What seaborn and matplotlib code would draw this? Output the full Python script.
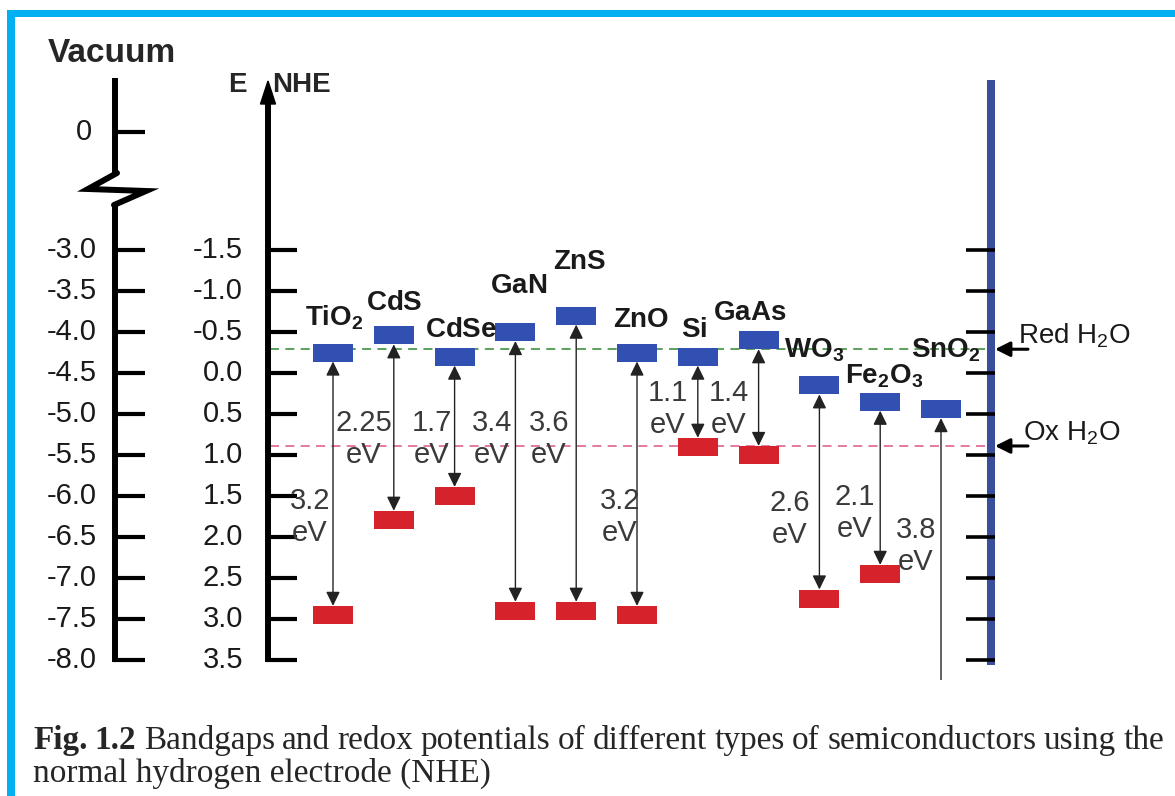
import re
import matplotlib
matplotlib.use("Agg")
import matplotlib.pyplot as plt
import seaborn as sns
import numpy as np
import pandas as pd
from matplotlib.path import Path
from matplotlib.patches import Rectangle

# Band-edge positions on the NHE scale (V) and band gaps (eV)
materials = ["TiO2", "CdS", "CdSe", "GaN", "ZnS", "ZnO", "Si", "GaAs", "WO3", "Fe2O3", "SnO2"]
conduction_band = [-0.25, -0.46, -0.20, -0.50, -0.70, -0.25, -0.20, -0.40, 0.15, 0.35, 0.44]
band_gap = [3.2, 2.25, 1.7, 3.4, 3.6, 3.2, 1.1, 1.4, 2.6, 2.1, 3.8]

# Axis scales: NHE ticks and the vacuum scale offset, E(vac) = -4.5 - E(NHE)
nhe_ticks = [-1.5, -1.0, -0.5, 0.0, 0.5, 1.0, 1.5, 2.0, 2.5, 3.0, 3.5]
vacuum_offset = -4.5
vacuum_top_label = "0"

# Water redox levels as drawn
h2o_reduction = -0.29
h2o_oxidation = 0.89

caption_bold = "Fig. 1.2"
caption_line1 = "Bandgaps and redox potentials of different types of semiconductors using the"
caption_line2 = "normal hydrogen electrode (NHE)"

sns.set_theme(style="white")
plt.rcParams["font.family"] = ["Liberation Sans", "DejaVu Sans"]
plt.rcParams["mathtext.fontset"] = "custom"
plt.rcParams["mathtext.rm"] = "Liberation Sans"
plt.rcParams["mathtext.bf"] = "Liberation Sans:bold"
plt.rcParams["mathtext.it"] = "Liberation Sans:italic"

BLUE = "#3150b2"
RED = "#d6232b"
AXIS_BLUE = "#3a4e9c"
FRAME = "#00b0f0"
GREY_TXT = "#3a3a3a"

W, H = 1175, 796
Y0, PXV = 373, 82          # pixel row of 0 V (NHE) and pixels per volt
AX_BOTTOM = 680            # lower edge of the diagram area (pixels)
X0, DX = 333, 60.8         # first material column and column spacing (pixels)
RECT_W, RECT_H = 40, 18    # band-edge box size (pixels)


def ey(p):
    """Pixel row -> NHE potential."""
    return (p - Y0) / PXV


fig = plt.figure(figsize=(W / 100, H / 100), dpi=100)
fig.patch.set_facecolor("white")

ov = fig.add_axes([0, 0, 1, 1])
ov.set_xlim(0, W)
ov.set_ylim(H, 0)
ov.axis("off")

ax = fig.add_axes([0, 1 - AX_BOTTOM / H, 1, AX_BOTTOM / H])
ax.set_xlim(0, W)
ax.set_ylim(ey(AX_BOTTOM), ey(0))
ax.axis("off")

df = pd.DataFrame({"material": materials, "cb": conduction_band, "gap": band_gap})
df["vb"] = df["cb"] + df["gap"]
df["x"] = X0 + DX * np.arange(len(df))

# ---- left scales -------------------------------------------------------
NHE_X, VAC_X = 268, 115
ax.plot([NHE_X, NHE_X], [ey(662), ey(100)], color="black", lw=4.3,
        solid_capstyle="butt", zorder=3)
ax.fill([NHE_X, NHE_X - 7.5, NHE_X + 7.5], [ey(81), ey(104), ey(104)],
        color="black", zorder=3)
ax.hlines(nhe_ticks, NHE_X - 2, NHE_X + 29, color="black", lw=3, zorder=3)
for v in nhe_ticks:
    ax.text(243, v, f"{v:.1f}", ha="right", va="center", fontsize=21, color="#1a1a1a")
ax.text(228, ey(92), "E", ha="left", va="baseline", fontsize=20, fontweight="bold")
ax.text(272, ey(92), "NHE", ha="left", va="baseline", fontsize=20, fontweight="bold")

# vacuum scale with axis break
ax.plot([VAC_X, VAC_X], [ey(78), ey(174)], color="black", lw=4.3, solid_capstyle="butt", zorder=3)
ax.plot([VAC_X, VAC_X], [ey(203), ey(662)], color="black", lw=4.3, solid_capstyle="butt", zorder=3)
ax.plot([VAC_X + 2, 88, 146, VAC_X - 1], [ey(173), ey(189), ey(191), ey(205)],
        color="black", lw=4.3, solid_joinstyle="miter", zorder=3)
ax.hlines([ey(132)] + nhe_ticks, VAC_X - 2, VAC_X + 30, color="black", lw=3, zorder=3)
ax.text(92, ey(132), vacuum_top_label, ha="right", va="center", fontsize=21, color="#1a1a1a")
for v in nhe_ticks:
    ax.text(97, v, f"{vacuum_offset - v:.1f}", ha="right", va="center", fontsize=21, color="#1a1a1a")
ax.text(48, ey(62), "Vacuum", ha="left", va="baseline", fontsize=24, fontweight="bold")

# ---- right scale and water levels -------------------------------------
R_X = 991
ax.plot([R_X, R_X], [ey(80), ey(665)], color=AXIS_BLUE, lw=5.8, solid_capstyle="butt", zorder=2)
ax.hlines(nhe_ticks, R_X - 25, R_X + 4, color="black", lw=2.6, zorder=3)

ax.hlines(h2o_reduction, NHE_X + 2, R_X - 3, colors="#4e9a4e", lw=1.3,
          linestyles=(0, (5, 3.5)), zorder=1)
ax.hlines(h2o_oxidation, NHE_X + 2, R_X - 3, colors="#e0709c", lw=1.3,
          linestyles=(0, (5, 3.5)), zorder=1)
for lvl, txt, tx in [(h2o_reduction, r"Red H$_\mathrm{2}$O", 1018),
                     (h2o_oxidation, r"Ox H$_\mathrm{2}$O", 1023)]:
    ax.annotate("", xy=(R_X + 4, lvl), xytext=(R_X + 37, lvl),
                arrowprops=dict(arrowstyle="-|>,head_length=0.5,head_width=0.25",
                                mutation_scale=18, color="black", lw=2.2,
                                shrinkA=0, shrinkB=0), zorder=4)
    ax.text(tx, lvl - 0.07, txt, ha="left", va="baseline", fontsize=20, color="#1a1a1a")

# ---- band edges --------------------------------------------------------
rect = Path([(-RECT_W / 2, -RECT_H / 2), (RECT_W / 2, -RECT_H / 2),
             (RECT_W / 2, RECT_H / 2), (-RECT_W / 2, RECT_H / 2),
             (-RECT_W / 2, -RECT_H / 2)], closed=True)
size = (RECT_W * 0.72) ** 2
sns.scatterplot(data=df, x="x", y="cb", marker=rect, s=size, color=BLUE,
                linewidth=0, edgecolor="none", ax=ax, zorder=4, legend=False)
sns.scatterplot(data=df, x="x", y="vb", marker=rect, s=size, color=RED,
                linewidth=0, edgecolor="none", ax=ax, zorder=4, legend=False)
ax.set_xlim(0, W)
ax.set_ylim(ey(AX_BOTTOM), ey(0))
ax.axis("off")

half = RECT_H / 2 / PXV
for _, r in df.iterrows():
    ann = ax.annotate("", xy=(r.x, r.cb + half), xytext=(r.x, r.vb - half),
                      arrowprops=dict(arrowstyle="<|-|>,head_length=0.45,head_width=0.22",
                                      mutation_scale=19, color="#222222", lw=1.0,
                                      shrinkA=0, shrinkB=0),
                      annotation_clip=False, zorder=5)
    ann.arrow_patch.set_clip_box(ax.bbox)
    ann.arrow_patch.set_clip_on(True)

# material names (pixel x, baseline pixel row)
name_pos = [(334, 326), (394, 310), (461, 337), (519, 293), (580, 269), (641, 327),
            (694, 337), (750, 320), (814, 358), (884, 383), (946, 358)]
for name, (px, py) in zip(df["material"], name_pos):
    label = r"$\mathbf{" + re.sub(r"(\d)", r"_{\1}", name) + "}$"
    ax.text(px, ey(py), label, ha="center", va="baseline", fontsize=20,
            color="#1a1a1a", zorder=6)

# band gap labels (pixel x, centre pixel row)
gap_pos = [(310, 517), (364, 439), (432, 439), (492, 439), (549, 439), (620, 517),
           (668, 409), (729, 409), (790, 519), (855, 513), (916, 546)]
for g, (px, py) in zip(df["gap"], gap_pos):
    ax.text(px, ey(py), f"{g:g}\neV", ha="center", va="center", fontsize=21,
            linespacing=1.2, color=GREY_TXT, zorder=6)

# ---- frame and caption -------------------------------------------------
ov.add_patch(Rectangle((7, 10), W - 7, 7, color=FRAME, lw=0))
ov.add_patch(Rectangle((7, 10), 8, H - 10, color=FRAME, lw=0))

fig.canvas.draw()
renderer = fig.canvas.get_renderer()
serif = ["Liberation Serif", "DejaVu Serif"]

probe = ov.text(0, 0, caption_line2, fontsize=23, family=serif)
fs = 23 * 458 / probe.get_window_extent(renderer).width
probe.remove()

words = [(w, "bold") for w in caption_bold.split()] + [(w, "normal") for w in caption_line1.split()]
arts = [ov.text(0, 749, w, fontsize=fs, family=serif, fontweight=wt, ha="left", va="baseline")
        for w, wt in words]
widths = [a.get_window_extent(renderer).width for a in arts]
left, right = 33, 1164
gap = (right - left - sum(widths)) / (len(arts) - 1)
xpos = left
for a, w in zip(arts, widths):
    a.set_x(xpos)
    xpos += w + gap
ov.text(left, 782, caption_line2, fontsize=fs, family=serif, ha="left", va="baseline")

fig.savefig("out.png", dpi=100, facecolor="white")
